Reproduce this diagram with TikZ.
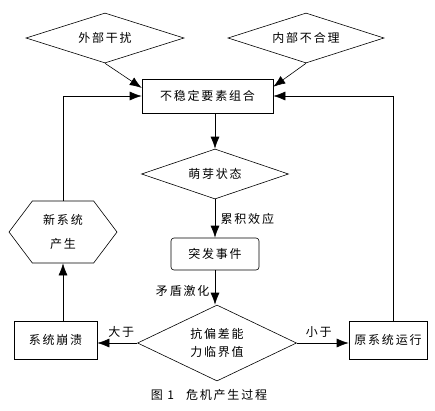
\documentclass[tikz,border=0pt]{standalone}
\usepackage{fontspec}
\setmainfont{Noto Sans CJK SC}[LetterSpace=15]
\usetikzlibrary{positioning, shapes.geometric, shapes.symbols, arrows.meta}

\begin{document}
\begin{tikzpicture}[x=1pt, y=-1pt, font=\fontsize{12}{14}\selectfont,
    box/.style={draw, line width=0.6pt, inner sep=0pt},
    dia/.style={draw, diamond, line width=0.6pt, inner sep=0pt, aspect=3},
    arr/.style={line width=0.6pt, -{Latex[length=12pt, width=9pt]}}]
    \useasboundingbox (0,0) rectangle (435,410);
    \node[dia, minimum width=158pt, minimum height=50pt] (ext) at (105,38) {外部干扰};
    \node[dia, minimum width=156pt, minimum height=50pt] (intr) at (306,38) {内部不合理};
    \node[box, minimum width=131pt, minimum height=34pt] (combo) at (207.5,96) {不稳定要素组合};
    \node[dia, minimum width=147pt, minimum height=50pt] (bud) at (215,174) {萌芽状态};
    \node[box, rounded corners=3pt, minimum width=88pt, minimum height=32pt] (event) at (215,254) {突发事件};
    \node[draw, line width=0.6pt, signal, signal to=west and east, signal pointer angle=106,
        inner sep=0pt, minimum width=108pt, minimum height=62pt, align=center] (newsys) at (63,232) {新系统\\[10pt]产生};
    \node[dia, aspect=2, align=center, minimum width=159pt, minimum height=76pt] (crit) at (217,343) {抗偏差能\\[4pt]力临界值};
    \node[box, minimum width=83pt, minimum height=38pt] (collapse) at (55.5,340) {系统崩溃};
    \node[box, minimum width=78pt, minimum height=38pt] (orig) at (388,340) {原系统运行};
    \node (cap) at (209,395) {图 1\quad 危机产生过程};

    \draw[arr] (ext.south) -- (combo.173);
    \draw[arr] (intr.south) -- (combo.8);
    \draw[arr] (combo.south -| bud.north) -- (bud.north);
    \draw[arr] (bud.south) -- node[right=2pt]{累积效应} (event.north);
    \draw[arr] (event.south) -- node[pos=0.6, left=2pt]{矛盾激化} (event.south |- crit.north);
    \draw[arr] (crit.west) -- node[above=2pt, xshift=4pt]{大于} (crit.west -| collapse.east);
    \draw[arr] (crit.east) -- node[above=2pt, xshift=-4pt]{小于} (crit.east -| orig.west);
    \draw[arr] (newsys.south |- collapse.north) -- (newsys.south);
    \draw[arr] (newsys.north) |- (combo.west);
    \draw[arr] ([xshift=5pt]orig.north) |- (combo.east);
\end{tikzpicture}
\end{document}
